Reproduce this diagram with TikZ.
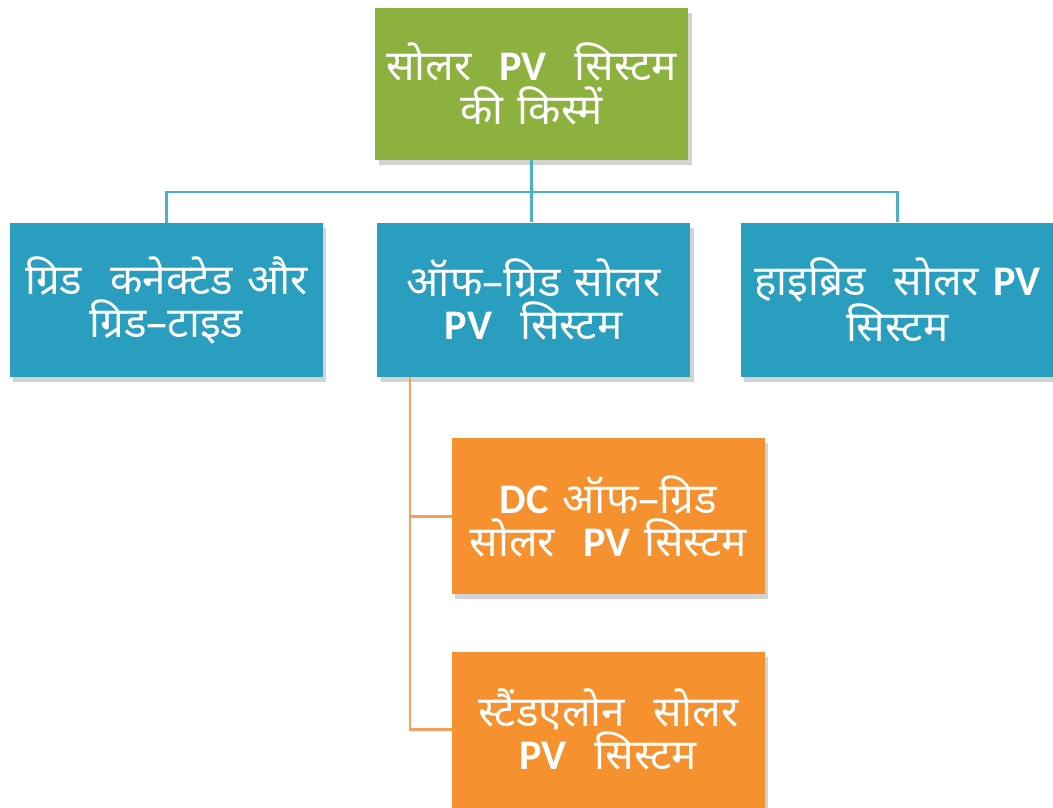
\documentclass[tikz,border=0pt]{standalone}
\usepackage{fontspec}
\setmainfont[Script=Devanagari]{Noto Sans}
\newfontfamily\pvfont{Carlito}
\newcommand{\lat}[1]{{\pvfont\bfseries #1}}
\usetikzlibrary{shadows}
\definecolor{rootgreen}{HTML}{8DB13F}
\definecolor{typeblue}{HTML}{2A9EBE}
\definecolor{subor}{HTML}{F5912E}
\definecolor{bluelink}{HTML}{4DB0C9}
\definecolor{orlink}{HTML}{F4A05A}
\tikzset{
  box/.style={minimum width=7.825cm, minimum height=3.85cm, text width=7.7cm,
    align=center, text=white, inner sep=0pt,
    font=\fontsize{30}{31}\selectfont,
    drop shadow={shadow xshift=2.5pt, shadow yshift=-3.5pt, opacity=0.35}},
  rootbox/.style={box, fill=rootgreen, minimum height=3.8cm},
  typebox/.style={box, fill=typeblue},
  subbox/.style={box, fill=subor, minimum height=3.9cm},
  blink/.style={draw=bluelink, line width=2pt},
  olink/.style={draw=orlink, line width=2pt}
}
\begin{document}
\begin{tikzpicture}
\useasboundingbox (0,0) rectangle (26.325,-20.175);
\node[rootbox] (root) at (13.29,-2.1){सोलर\ \ \lat{PV}\ \ सिस्टम\\ की किस्में};
\node[typebox] (grid) at (4.16,-7.51){ग्रिड\ \ कनेक्टेड\ और\\ ग्रिड--टाइड};
\node[typebox] (off) at (13.34,-7.49){ऑफ--ग्रिड सोलर\\ \lat{PV}\ \ सिस्टम};
\node[typebox] (hyb) at (22.43,-7.49){हाइब्रिड\ \ सोलर \lat{PV}\\ सिस्टम};
\node[subbox] (dcoff) at (15.21,-12.91){\lat{DC} ऑफ--ग्रिड\\ सोलर\ \ \lat{PV} सिस्टम};
\node[subbox] (alone) at (15.21,-18.24){स्टैंडएलोन\ \ सोलर\\ \lat{PV}\ \ सिस्टम};
%
\coordinate (bus) at (13.29,-4.8);
\coordinate (trunk) at (10.25,-9.425);
%
\draw[blink](root.south)--(root.south |- off.north);
\draw[blink](grid.north) |- (bus) -| (hyb.north);
\draw[olink](trunk) |- (dcoff.west);
\draw[olink](trunk) |- (alone.west);

\end{tikzpicture}
\end{document}
